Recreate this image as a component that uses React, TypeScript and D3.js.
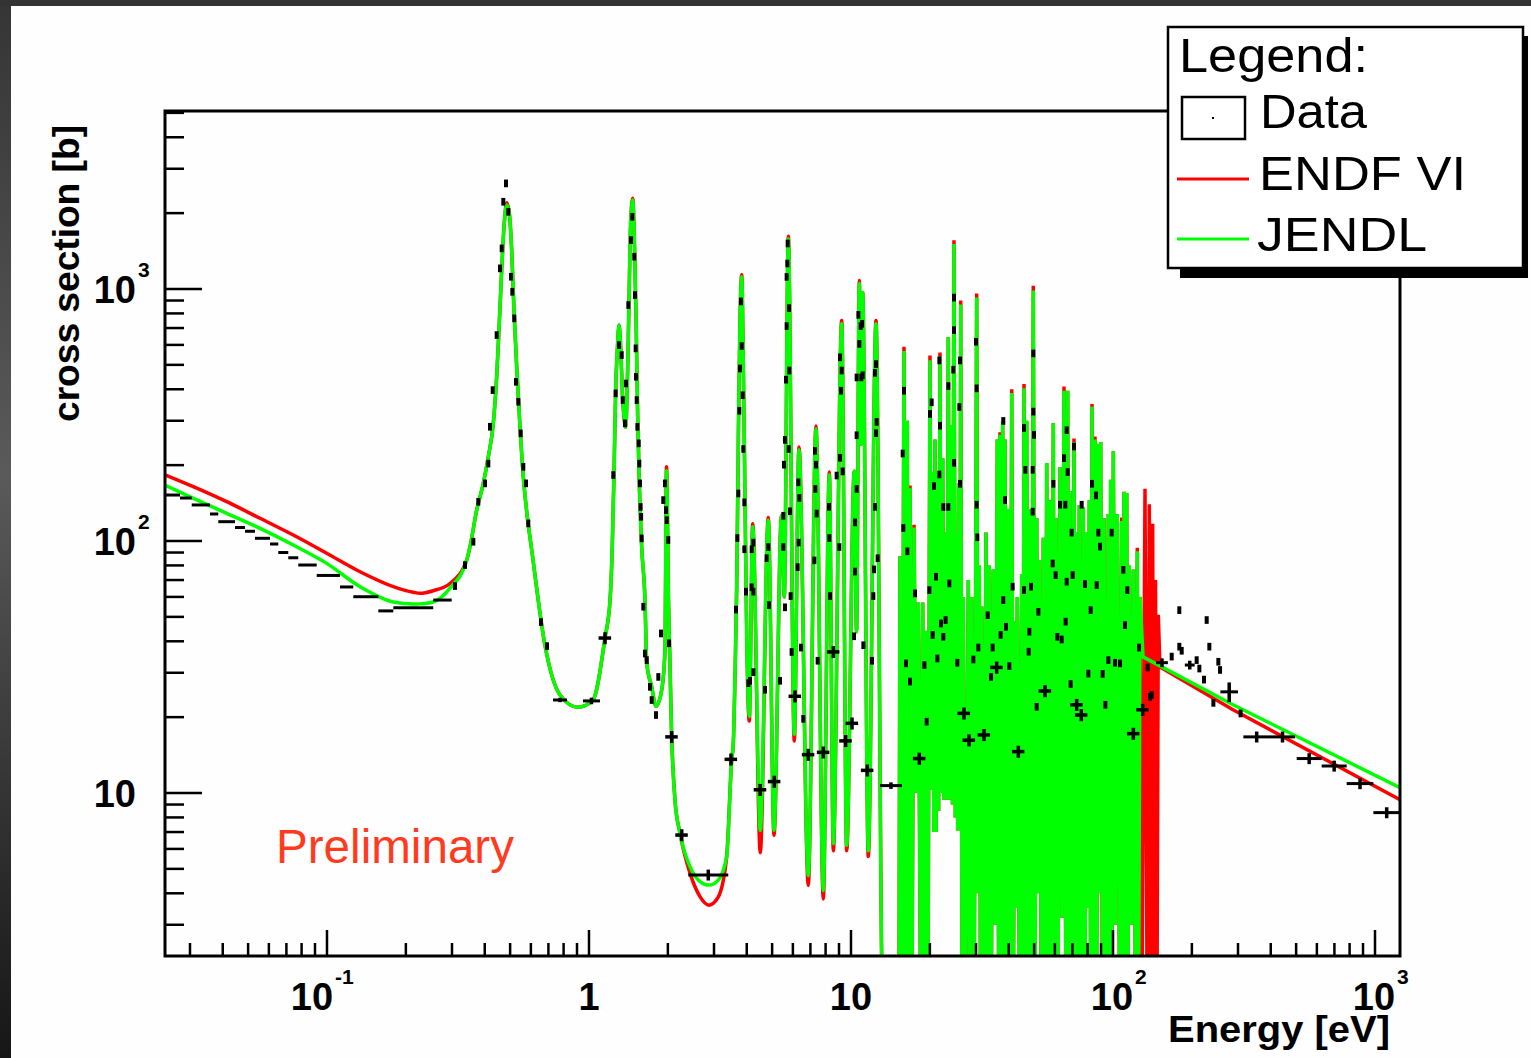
import React from "react";
import * as d3 from "d3";

// ---------------- axis ranges ----------------
const energyDomain: [number, number] = [0.024084, 1245.7]; // eV
const xsDomain: [number, number] = [2.2554, 5085]; // barn

const xMajorTicks = [0.1, 1, 10, 100, 1000];
const xTickBase = ["10", "1", "10", "10", "10"];
const xTickExp = ["-1", "", "", "2", "3"];
const yMajorTicks = [10, 100, 1000];
const yTickBase = ["10", "10", "10"];
const yTickExp = ["", "2", "3"];

// ---------------- evaluated cross sections ----------------
// thermal region and first resonance (eV, barn)
const thermalEnergy = [0.02305, 0.03089, 0.04142, 0.0555, 0.07437, 0.09974, 0.1337, 0.1791, 0.2135, 0.2265, 0.2544, 0.2948, 0.3414, 0.3514, 0.3727, 0.395, 0.4127, 0.4313, 0.4443, 0.4546, 0.4643, 0.4739, 0.4852, 0.4963, 0.5069, 0.5173, 0.5297, 0.5453, 0.5614, 0.5815, 0.6045];
const thermalEndf = [186.6, 164.3, 143.2, 123.1, 105.6, 89.4, 75.5, 65.9, 62.6, 62.0, 63.5, 67.8, 84, 94.9, 132.7, 169.4, 215.7, 293.2, 448.7, 731, 1189, 1767, 2200, 1997, 1428, 825, 491.6, 284, 180, 124.8, 92.1];
const thermalJendl = [170.3, 147.7, 128.8, 112.3, 96.4, 81.5, 65.9, 57.3, 56.2, 56.3, 57.3, 65.0, 84, 94.9, 132.7, 169.4, 215.7, 293.2, 448.7, 731, 1189, 1767, 2154, 1997, 1428, 825, 491.6, 284, 180, 124.8, 92.1];

// resolved resonances 0.7 - 15 eV
const resolvedEnergy = [0.679, 0.775, 0.908, 1.036, 1.151, 1.203, 1.227, 1.246, 1.264, 1.283, 1.302, 1.321, 1.34, 1.36, 1.38, 1.401, 1.421, 1.442, 1.468, 1.489, 1.512, 1.534, 1.556, 1.589, 1.636, 1.661, 1.735, 1.802, 1.894, 1.95, 1.976, 2.011, 2.068, 2.129, 2.225, 2.43, 2.653, 2.871, 3.108, 3.354, 3.504, 3.554, 3.608, 3.662, 3.695, 3.727, 3.771, 3.827, 3.881, 3.939, 3.998, 4.09, 4.215, 4.506, 4.834, 5.083, 5.428, 5.564, 5.765, 6.074, 6.331, 6.871, 7.352, 7.839, 8.265, 8.56, 9.215, 9.63, 10.29, 10.5, 10.76, 10.92, 11.08, 11.64, 12.46, 13.21, 14.21, 15.25];
const resolvedEndf = [38.6, 24.5, 21.9, 23.4, 41.2, 58, 94.9, 185, 394, 576, 719, 590, 394, 311, 283, 422, 877, 1821, 2290, 1613, 777, 311, 169, 94.9, 58, 32.8, 26.4, 22.1, 25.6, 36.9, 197, 58, 16.7, 9.38, 6.93, 4.81, 3.88, 3.59, 3.85, 5.6, 13.5, 15.7, 29, 65.7, 148.5, 336, 757, 1140, 504, 148.5, 43.6, 19.3, 117, 5.8, 124, 6.8, 126, 60, 1620, 16.1, 236, 4.3, 286, 3.8, 188, 5.9, 750, 5.9, 189, 43.6, 1080, 242, 968, 5.6, 750, 1.5, 1.5, 1.5];
const resolvedJendl = [38.6, 24.5, 21.9, 23.4, 41.2, 58, 94.9, 185, 394, 576, 719, 590, 394, 311, 283, 422, 877, 1821, 2256, 1613, 777, 311, 169, 94.9, 58, 32.8, 26.4, 22.1, 25.6, 36.9, 190, 58, 16.7, 9.38, 6.93, 5.1, 4.45, 4.31, 4.5, 5.59, 13.5, 15.7, 29, 65.7, 148.5, 336, 757, 1117, 504, 148.5, 43.6, 20.1, 114, 7.1, 121, 7.1, 126, 60, 1580, 17.1, 230, 4.7, 279, 4.1, 183, 6.3, 728, 6.2, 189, 43.6, 1051, 242, 968, 5.9, 728, 1.5, 1.5, 1.5];

// dense resonance forest 15 - 127 eV (alternating peak / valley)
const denseEnergy = [
  15.38, 15.65, 15.93, 16.17, 16.4, 16.6, 16.8, 17.09, 17.4, 17.73,
  18.07, 18.42, 18.78, 19.06, 19.33, 19.67, 20.02, 20.26, 20.5, 20.71,
  20.92, 21.13, 21.35, 21.6, 21.86, 22.12, 22.39, 22.61, 22.85, 23.18,
  23.52, 23.8, 24.08, 24.4, 24.72, 25.02, 25.32, 25.54, 25.77, 26.0,
  26.23, 26.53, 26.82, 27.43, 28.04, 28.46, 28.89, 29.53, 30.18, 30.53,
  30.88, 31.21, 31.54, 32.14, 32.75, 33.23, 33.72, 34.31, 34.92, 35.54,
  36.17, 36.61, 37.04, 37.49, 37.93, 38.33, 38.71, 39.28, 39.85, 40.46,
  41.06, 41.67, 42.27, 42.69, 43.13, 43.97, 44.83, 45.29, 45.75, 46.29,
  46.84, 47.38, 47.93, 48.77, 49.64, 50.38, 51.15, 51.73, 52.33, 53.25,
  54.2, 55.02, 55.85, 56.66, 57.49, 58.32, 59.18, 59.88, 60.59, 61.67,
  62.76, 63.87, 65.01, 66.07, 67.15, 67.83, 68.52, 69.74, 70.97, 71.82,
  72.68, 73.52, 74.36, 75.69, 77.02, 78.18, 79.36, 80.27, 81.2, 82.16,
  83.14, 84.24, 85.36, 86.61, 87.88, 88.81, 89.75, 91.06, 92.39, 94.19,
  95.95, 96.97, 98.0, 99.12, 100.3, 102.0, 103.8, 105.9, 107.9, 109.0,
  110.2, 111.5, 112.8, 114.1, 115.4, 117.5, 119.6, 121.7, 123.8, 125.3,
  126.8,
];
const denseJendl = [
  87, 1.5, 567, 1.5, 300, 1.5, 162, 1.5, 113, 10,
  57, 1.5, 57, 1.5, 44, 1.5, 521, 10.3, 188, 7.0,
  253, 7.0, 180, 8.5, 539, 10, 213, 9.4, 108, 9.4,
  645, 9.4, 287, 9.0, 1509, 8.0, 108, 7.1, 169, 7.1,
  868, 1.5, 60, 1.5, 70, 1.5, 60, 1.5, 925, 4.0,
  80, 1.5, 55, 1.5, 108, 1.5, 80, 1.5, 77, 3.0,
  253, 1.5, 264, 1.5, 300, 1.5, 253, 1.5, 134, 1.5,
  387, 1.5, 48, 3.5, 60, 1.5, 74, 1.5, 404, 1.5,
  300, 1.5, 134, 1.5, 986, 1.5, 123, 4.0, 84, 1.5,
  103, 1.5, 204, 1.5, 145, 1.5, 293, 1.5, 123, 1.5,
  196, 3.2, 395, 1.5, 395, 1.5, 158, 1.5, 247, 1.5,
  108, 1.5, 139, 1.5, 136, 1.5, 108, 3.5, 145, 1.5,
  341, 1.5, 253, 1.5, 242, 4.0, 247, 1.5, 123, 1.5,
  128, 1.5, 175, 1.5, 227, 3.0, 128, 1.5, 120, 1.5,
  157, 1.5, 155, 1.5, 80, 3.0, 77, 1.5, 91, 1.5,
  60,
];
const denseEndf = [
  87, 1.5, 590, 1.5, 300, 1.5, 166, 1.5, 116, 10,
  57, 1.5, 57, 1.5, 44, 1.5, 545, 10.3, 188, 7.0,
  253, 7.0, 180, 8.5, 560, 10, 213, 9.4, 108, 9.4,
  645, 9.4, 287, 9.0, 1560, 8.0, 108, 7.1, 169, 7.1,
  900, 1.5, 60, 1.5, 70, 1.5, 60, 1.5, 960, 4.0,
  80, 1.5, 55, 1.5, 108, 1.5, 80, 1.5, 77, 3.0,
  253, 1.5, 270, 1.5, 300, 1.5, 253, 1.5, 134, 1.5,
  400, 1.5, 48, 3.5, 60, 1.5, 74, 1.5, 420, 1.5,
  300, 1.5, 134, 1.5, 1030, 1.5, 123, 4.0, 84, 1.5,
  103, 1.5, 204, 1.5, 145, 1.5, 293, 1.5, 123, 1.5,
  196, 3.2, 410, 1.5, 395, 1.5, 158, 1.5, 255, 1.5,
  108, 1.5, 139, 1.5, 136, 1.5, 108, 3.5, 145, 1.5,
  350, 1.5, 260, 1.5, 242, 4.0, 247, 1.5, 123, 1.5,
  128, 1.5, 175, 1.5, 227, 3.0, 128, 1.5, 124, 1.5,
  157, 1.5, 155, 1.5, 80, 3.0, 77, 1.5, 94, 1.5,
  60,
];

// above the resolved range
const endfTailEnergy = [129.0, 132.5, 134.9, 137.6, 139.6, 141.7, 143.4, 145.3, 147.2, 148.9, 151.1, 287.1, 1245.7];
const endfTailXs = [1.5, 161, 1.5, 140, 1.5, 117, 1.5, 70, 1.5, 51, 31.6, 21.4, 9.4];
const jendlTailEnergy = [130.2, 287.1, 1245.7];
const jendlTailXs = [34.7, 22.4, 10.5];

// ---------------- measured data ----------------
// binned points: energy bin edges, cross section, relative uncertainty
const binLow = [0.0235, 0.02748, 0.03046, 0.03576, 0.03847, 0.04455, 0.04864, 0.05311, 0.06061, 0.06518, 0.07116, 0.07769, 0.09135, 0.1121, 0.126, 0.157, 0.1791, 0.2544, 0.7288, 0.9486, 2.393, 12.9, 146, 188, 257, 314.5, 397.4, 502.4, 625.8, 779.6, 985.6];
const binHigh = [0.02748, 0.03046, 0.03576, 0.03847, 0.04455, 0.04864, 0.05311, 0.06061, 0.06518, 0.07116, 0.07769, 0.09135, 0.1121, 0.126, 0.157, 0.1791, 0.2544, 0.2992, 0.8244, 1.101, 3.401, 15.65, 162, 205, 300, 397.4, 495.1, 625.8, 779.6, 985.6, 1246];
const binXs = [152.2, 148.1, 139.0, 128.0, 119.3, 113.1, 109.3, 102.5, 97.3, 90.0, 85.8, 80.3, 73.0, 65.7, 60.1, 52.8, 54.4, 58.3, 23.4, 23.2, 4.73, 10.7, 32.9, 32.2, 25.2, 16.7, 16.7, 13.7, 12.8, 10.9, 8.36];
const binErr = [0, 0, 0, 0, 0, 0, 0, 0, 0, 0, 0, 0, 0, 0, 0, 0, 0, 0, 0.02, 0.03, 0.05, 0.03, 0.04, 0.04, 0.09, 0.05, 0.05, 0.05, 0.05, 0.05, 0.05];

// narrow-bin points in the resonance region
const pointEnergy = [
  0.308, 0.3363, 0.3618, 0.378, 0.401, 0.4128,
  0.4189, 0.429, 0.4443, 0.4574, 0.4643, 0.4709, 0.4822, 0.492, 0.5039, 0.5097, 0.5187, 0.5265, 0.5373, 0.5487, 0.5614, 0.5749, 0.5866, 0.6557, 0.6914,
  1.238, 1.264, 1.302, 1.333, 1.345, 1.372, 1.384, 1.413, 1.447, 1.464, 1.489, 1.498, 1.507, 1.512, 1.521, 1.53, 1.548, 1.556, 1.565, 1.574, 1.581, 1.589,
  1.612, 1.636, 1.661, 1.709, 1.735, 1.802, 1.839, 1.883, 1.921, 1.95, 1.968, 1.98, 2.007, 2.02,
  3.64, 3.684, 3.715, 3.748, 3.771, 3.804, 3.827, 3.86, 3.882, 3.917, 3.917, 3.974,
  4.057, 4.117, 4.178, 4.178, 4.24, 4.24, 4.24,
  4.697, 4.766, 4.836, 4.864, 5.358,
  5.517, 5.517, 5.55, 5.599, 5.599, 5.648, 5.681, 5.681, 5.715, 5.732, 5.782, 5.8, 5.816, 5.85, 5.884, 5.935,
  6.257, 6.295, 6.313, 6.35, 6.444, 6.575,
  7.245, 7.288, 7.309, 7.352, 7.396, 7.46,
  8.244, 8.268, 8.317,
  8.817, 9.027, 9.08, 9.08, 9.16, 9.215, 9.296,
  10.27, 10.36, 10.36, 10.51, 10.51, 10.51, 10.67, 10.76, 10.89, 10.95, 11.02, 11.08, 11.15,
  12.03, 12.17, 12.24, 12.35, 12.35, 12.46, 12.46, 12.53, 12.64,
  15.75, 15.84, 15.93, 16.41, 20.02, 20.32, 20.74, 21.74, 21.87, 21.74, 22.51, 23.52, 23.52, 24.72, 24.72, 24.58, 24.72, 26.06, 25.91, 26.06,
  30.0, 30.17, 30.17, 30.35, 38.13, 38.7, 45.75, 46.29, 49.65, 49.65, 49.94, 49.36, 49.36, 59.2, 62.77, 65.01, 65.78, 66.55, 67.14, 70.98,
  69.53, 75.93, 83.18, 86.12, 87.91, 89.21, 98.84, 109.5,
  16.22, 16.8, 17.55, 19.06, 19.45, 19.91, 20.5, 21.11, 21.36, 22.05, 22.51, 22.97, 23.73, 25.46, 29.31, 30.62, 33.24, 34.73, 34.22, 37.25,
  38.13, 39.04, 40.2, 41.4, 45.75, 47.94, 47.66, 48.65, 51.14, 51.89, 58.87, 60.41, 61.3, 63.69, 65.97, 66.55, 68.93, 70.15, 78.19, 80.52,
  82.18, 86.65, 91.33, 93.5, 95.98, 101.8, 106.4, 111.1, 113.4, 125.7, 135.6, 140.5,
  138.4, 167.5, 179.1, 179.1, 182.9, 208.6, 213.6, 222.5, 227.8, 233.2, 241.6, 252.4, 256.2, 307.0,
];
const pointXs = [
  66.3, 80.3, 99.4, 143.2, 169.4, 203,
  284.2, 397.3, 656.9, 1208, 1450, 2220, 2626, 2026, 1119, 975.7, 765, 428.6, 357.1, 267.5, 197.1, 169.4, 117.5, 47.7, 38.3,
  182.8, 385.6, 599.6, 547.1, 362.6, 293.1, 422, 864, 1564, 1935, 1344, 947, 581.6, 448.7, 362.6, 284, 244.2, 203, 169.4, 136.6, 124.8, 102.5,
  54.9, 35.8, 33.7, 26.4, 23.4, 20.4, 28.9, 43.0, 145.4, 169.4, 132.7, 121, 101, 39.3,
  53.5, 102.8, 154.5, 329, 484, 893, 594, 379, 232, 142.4, 92.8, 63.0,
  27.3, 27.9, 92.8, 65.6, 98.6, 63.0, 30.2,
  25.7, 85.5, 94.7, 55.7, 27.9,
  126.0, 94.7, 201, 252, 54.6, 437, 1117, 713, 1263, 1517, 232, 840, 475, 131.3, 60.5, 36.3,
  78.8, 171, 98.6, 148.3, 37.8, 19.7,
  83.8, 228, 161, 201, 128.6, 33.5,
  136.7, 102.8, 60.5,
  182, 94.7, 536, 214, 395, 475, 189,
  41.9, 118.6, 75.7, 446, 263, 161, 790, 606, 713, 446, 728, 455, 38.6,
  33.5, 60.5, 77.2, 465, 136.7, 504, 268, 297, 85.5,
  222.6, 112.7, 395, 91.1, 319.6, 355.3, 165.3, 521, 287, 183.8, 136.5, 412, 136.5, 925, 687, 478.6, 204.4, 521, 340.5, 168.8,
  617.8, 403.6, 139.4, 103.5, 299.7, 145.4, 281.2, 191.8, 555.4, 326.3, 263.8, 191.8, 130.8, 168.8, 139.4, 213.3, 139.4, 275.4, 187.8, 237.2,
  108.0, 139.4, 168.8, 151.8, 108.0, 95.1, 108.0, 76.9,
  32.7, 27.7, 62.0, 32.2, 19.2, 63.9, 42.4, 72.2, 34.2, 47.1, 41.7, 48.6, 67.9, 32.9, 33.9, 37.8, 50.8, 37.8, 28.9, 42.4,
  58.3, 45.7, 31.9, 65.9, 63.9, 43.7, 36.4, 65.9, 22.0, 52.4, 81.5, 73.3, 41.7, 40.7, 47.9, 69.0, 27.1, 73.3, 67.5, 29.8,
  53.2, 66.9, 29.7, 22.4, 33.7, 32.9, 32.7, 46.4, 63.9, 37.8, 31.5, 24.5,
  24.1, 34.8, 53.2, 38.1, 36.7, 33.7, 31.2, 28.2, 48.6, 38.1, 22.8, 33.2, 30.8, 20.7,
];
const POINT_REL_ERR = 0.035;

// low-statistics points in the valleys
const crossEnergy = [1.151, 2.068, 2.259, 3.483, 4.5, 5.096, 6.112, 6.871, 7.839, 8.562, 9.542, 10.09, 11.54, 18.23, 26.99, 28.21, 32.19, 35.97, 43.53, 55.03, 72.66, 75.7, 119.6, 129.8];
const crossXs = [41.2, 16.7, 6.81, 13.6, 10.3, 11.1, 24.2, 14.2, 14.5, 36.3, 16.1, 18.9, 12.3, 13.7, 20.7, 16.2, 17.0, 31.5, 14.6, 25.4, 22.4, 20.4, 17.2, 21.4];
const CROSS_REL_ERR = 0.055;

// ---------------- layout ----------------
const W = 1531;
const H = 1058;
const PLOT = { left: 165, right: 1400, top: 111, bottom: 956 };
const FONT = "'Liberation Sans', Arial, Helvetica, sans-serif";
const RED = "#ff0000";
const GREEN = "#00ff00";
const CURVE_WIDTH = 3.5;

type Pt = [number, number];

export default function App() {
  const x = d3.scaleLog().domain(energyDomain).range([PLOT.left, PLOT.right]);
  const y = d3.scaleLog().domain(xsDomain).range([PLOT.bottom, PLOT.top]);
  // smooth resonance shapes below 15 eV, straight segments in the forest and above
  const smooth = d3
    .line<Pt>()
    .x((d) => x(d[0]))
    .y((d) => y(d[1]))
    .curve(d3.curveMonotoneX);
  const straight = d3
    .line<Pt>()
    .x((d) => x(d[0]))
    .y((d) => y(d[1]));

  const zip = (e: number[], v: number[]): Pt[] => e.map((en, i) => [en, v[i]]);

  const endfLow: Pt[] = [...zip(thermalEnergy, thermalEndf), ...zip(resolvedEnergy, resolvedEndf)];
  const jendlLow: Pt[] = [...zip(thermalEnergy, thermalJendl), ...zip(resolvedEnergy, resolvedJendl)];
  const endfHigh: Pt[] = [endfLow[endfLow.length - 1], ...zip(denseEnergy, denseEndf), ...zip(endfTailEnergy, endfTailXs)];
  const jendlHigh: Pt[] = [jendlLow[jendlLow.length - 1], ...zip(denseEnergy, denseJendl), ...zip(jendlTailEnergy, jendlTailXs)];

  const endfPath = (smooth(endfLow) ?? "") + (straight(endfHigh) ?? "");
  const jendlPath = (smooth(jendlLow) ?? "") + (straight(jendlHigh) ?? "");

  const xMinor = d3
    .range(-2, 4)
    .flatMap((k) => d3.range(2, 10).map((m) => m * Math.pow(10, k)))
    .filter((v) => v > energyDomain[0] && v < energyDomain[1]);
  const yMinor = d3
    .range(0, 4)
    .flatMap((k) => d3.range(2, 10).map((m) => m * Math.pow(10, k)))
    .filter((v) => v > xsDomain[0] && v < xsDomain[1]);

  const markerStroke = { stroke: "#000", strokeWidth: 3.5, fill: "none" };

  return (
    <svg
      width={W}
      height={H}
      viewBox={`0 0 ${W} ${H}`}
      style={{ position: "absolute", left: 0, top: 0, display: "block" }}
      fontFamily={FONT}
    >
      <defs>
        <linearGradient id="edgeShade" x1="0" y1="0" x2="0" y2="1">
          <stop offset="0" stopColor="#353535" />
          <stop offset="0.45" stopColor="#5a5a5a" />
          <stop offset="0.8" stopColor="#2e2e2e" />
          <stop offset="1" stopColor="#161616" />
        </linearGradient>
        <clipPath id="plotArea">
          <rect x={PLOT.left} y={PLOT.top} width={PLOT.right - PLOT.left} height={PLOT.bottom - PLOT.top} />
        </clipPath>
      </defs>

      <rect x={0} y={0} width={W} height={H} fill="#fefefe" />
      <rect x={0} y={0} width={11} height={H} fill="url(#edgeShade)" />
      <rect x={0} y={0} width={W} height={6} fill="#333333" />

      {/* curves */}
      <g clipPath="url(#plotArea)">
        <path d={endfPath} fill="none" stroke={RED} strokeWidth={CURVE_WIDTH} />
        <path d={jendlPath} fill="none" stroke={GREEN} strokeWidth={CURVE_WIDTH} />

        {/* measured data */}
        <g {...markerStroke}>
          {binXs.map((v, i) => {
            const ec = Math.sqrt(binLow[i] * binHigh[i]);
            return (
              <g key={`b${i}`}>
                <line x1={x(binLow[i])} x2={x(binHigh[i])} y1={y(v)} y2={y(v)} strokeWidth={3} />
                {binErr[i] > 0 && (
                  <line x1={x(ec)} x2={x(ec)} y1={y(v * (1 - binErr[i]))} y2={y(v * (1 + binErr[i]))} />
                )}
              </g>
            );
          })}
          {pointXs.map((v, i) => (
            <line
              key={`p${i}`}
              x1={x(pointEnergy[i])}
              x2={x(pointEnergy[i])}
              y1={y(v * (1 - POINT_REL_ERR))}
              y2={y(v * (1 + POINT_REL_ERR))}
              strokeWidth={4}
            />
          ))}
          {crossXs.map((v, i) => (
            <g key={`c${i}`}>
              <line
                x1={x(crossEnergy[i] * (1 - CROSS_REL_ERR))}
                x2={x(crossEnergy[i] * (1 + CROSS_REL_ERR))}
                y1={y(v)}
                y2={y(v)}
              />
              <line
                x1={x(crossEnergy[i])}
                x2={x(crossEnergy[i])}
                y1={y(v * (1 - CROSS_REL_ERR))}
                y2={y(v * (1 + CROSS_REL_ERR))}
              />
            </g>
          ))}
        </g>
      </g>

      {/* frame */}
      <rect
        x={PLOT.left}
        y={PLOT.top}
        width={PLOT.right - PLOT.left}
        height={PLOT.bottom - PLOT.top}
        fill="none"
        stroke="#000"
        strokeWidth={3}
      />

      {/* ticks */}
      <g stroke="#000" strokeWidth={2.5}>
        {xMajorTicks.map((t) => (
          <line key={`xM${t}`} x1={x(t)} x2={x(t)} y1={PLOT.bottom} y2={PLOT.bottom - 26} />
        ))}
        {xMinor.map((t) => (
          <line key={`xm${t}`} x1={x(t)} x2={x(t)} y1={PLOT.bottom} y2={PLOT.bottom - 13} />
        ))}
        {yMajorTicks.map((t) => (
          <line key={`yM${t}`} x1={PLOT.left} x2={PLOT.left + 37} y1={y(t)} y2={y(t)} />
        ))}
        {yMinor.map((t) => (
          <line key={`ym${t}`} x1={PLOT.left} x2={PLOT.left + 19} y1={y(t)} y2={y(t)} />
        ))}
      </g>

      {/* tick labels */}
      <g fontWeight="bold" fill="#000">
        {xMajorTicks.map((t, i) => {
          const hasExp = xTickExp[i] !== "";
          const cx = x(t) + (xTickExp[i] === "-1" ? -15 : hasExp ? -1 : 0);
          return (
            <g key={`xl${t}`}>
              <text x={cx} y={1010} fontSize={38} textAnchor="middle">
                {xTickBase[i]}
              </text>
              {hasExp && (
                <text x={cx + 23} y={984} fontSize={21}>
                  {xTickExp[i]}
                </text>
              )}
            </g>
          );
        })}
        {yMajorTicks.map((t, i) => (
          <g key={`yl${t}`}>
            <text x={136} y={y(t) + 14} fontSize={38} textAnchor="end">
              {yTickBase[i]}
            </text>
            {yTickExp[i] !== "" && (
              <text x={138} y={y(t) - 12} fontSize={21}>
                {yTickExp[i]}
              </text>
            )}
          </g>
        ))}
      </g>

      {/* axis titles */}
      <text x={1168} y={1042} fontSize={36} fontWeight="bold" textLength={222} lengthAdjust="spacingAndGlyphs">
        Energy [eV]
      </text>
      <text
        transform="translate(79, 422) rotate(-90)"
        fontSize={36}
        fontWeight="bold"
        textLength={297}
        lengthAdjust="spacingAndGlyphs"
      >
        cross section [b]
      </text>

      <text x={276} y={863} fontSize={48} fill="#ff3b1f" textLength={238} lengthAdjust="spacingAndGlyphs">
        Preliminary
      </text>

      {/* legend */}
      <g>
        <rect x={1180} y={36} width={348} height={242} fill="#000" />
        <rect x={1168} y={27} width={355} height={241} fill="#fff" stroke="#000" strokeWidth={2.5} />
        <text x={1179} y={72} fontSize={48} textLength={189} lengthAdjust="spacingAndGlyphs">
          Legend:
        </text>
        <rect x={1182} y={97} width={63} height={42} fill="#fff" stroke="#000" strokeWidth={2.5} />
        <rect x={1212} y={117} width={2} height={2} fill="#000" />
        <text x={1260} y={128} fontSize={48} textLength={107} lengthAdjust="spacingAndGlyphs">
          Data
        </text>
        <line x1={1177} x2={1249} y1={179} y2={179} stroke={RED} strokeWidth={3} />
        <text x={1259} y={190} fontSize={48} textLength={207} lengthAdjust="spacingAndGlyphs">
          ENDF VI
        </text>
        <line x1={1177} x2={1249} y1={239} y2={239} stroke={GREEN} strokeWidth={3} />
        <text x={1257} y={251} fontSize={48} textLength={170} lengthAdjust="spacingAndGlyphs">
          JENDL
        </text>
      </g>
    </svg>
  );
}
